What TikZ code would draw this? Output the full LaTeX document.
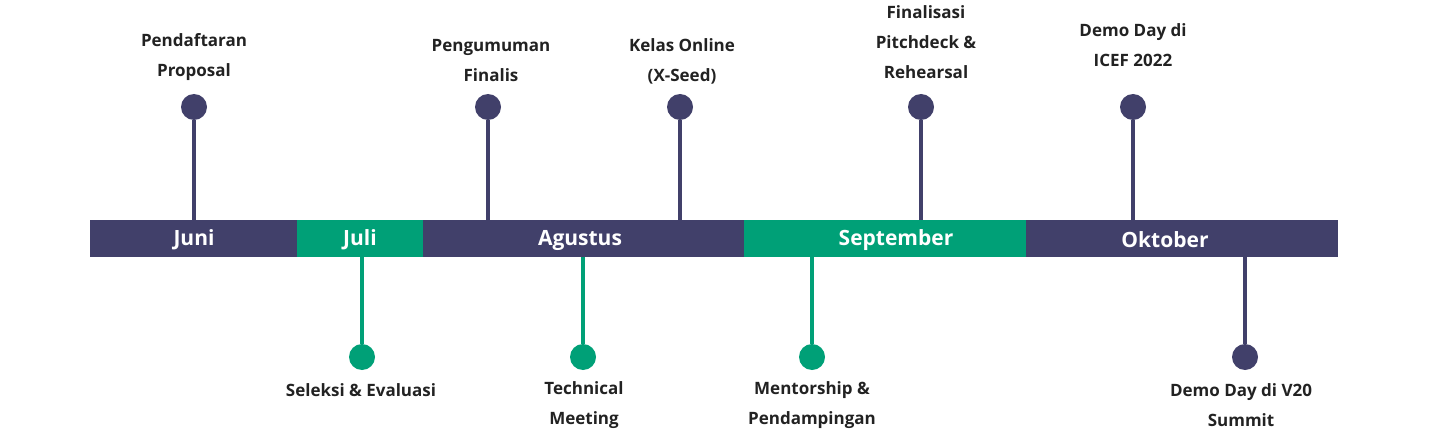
\documentclass[tikz,border=0pt]{standalone}
\usepackage{fontspec}
\setmainfont{Open Sans}
\definecolor{dk}{HTML}{41406A}
\definecolor{gr}{HTML}{00A077}
\definecolor{tx}{HTML}{222222}
\begin{document}
\begin{tikzpicture}[x=1pt,y=-1pt,
  seg/.style={inner sep=0pt,text=white,font=\bfseries\fontsize{21}{26}\selectfont},
  lbl/.style={text=tx,font=\bfseries\fontsize{17}{30}\selectfont,align=center},
  dot/.style={circle,minimum size=26pt,inner sep=0pt}]
\useasboundingbox (0,0) rectangle (1440,433);
\fill[dk] (90,220) rectangle (297,257);
\fill[gr] (297,220) rectangle (423,257);
\fill[dk] (423,220) rectangle (744,257);
\fill[gr] (744,220) rectangle (1026,257);
\fill[dk] (1026,220) rectangle (1338,257);
\node[seg] (juni) at (194,240) {Juni};
\node[seg] (juli) at (360,240) {Juli};
\node[seg] (agu) at (580,240) {Agustus};
\node[seg] (sep) at (896,240) {September};
\node[seg] (okt) at (1165,240) {Oktober};
\foreach \n/\x/\c in {a/194/dk,b/488/dk,c/680/dk,d/921/dk,e/1133/dk}{
  \coordinate (\n t) at (\x,220);
  \node[dot,fill=\c] (\n) at (\x,107) {};
  \draw[\c,line width=4pt] (\n) -- (\n t);
}
\foreach \n/\x/\c in {f/362/gr,g/583/gr,h/812/gr,i/1245/dk}{
  \coordinate (\n t) at (\x,257);
  \node[dot,fill=\c] (\n) at (\x,357) {};
  \draw[\c,line width=4pt] (\n) -- (\n t);
}
\node[lbl] (la) at (194,57) {Pendaftaran\\Proposal};
\node[lbl] (lb) at (491,61) {Pengumuman\\Finalis};
\node[lbl] (lc) at (682,61) {Kelas Online\\(X-Seed)};
\node[lbl] (ld) at (926,42) {Finalisasi\\Pitchdeck \&\\Rehearsal};
\node[lbl] (le) at (1133,45) {Demo Day di\\ICEF 2022};
\node[lbl] (lf) at (361,390) {Seleksi \& Evaluasi};
\node[lbl] (lg) at (584,405) {Technical\\Meeting};
\node[lbl] (lh) at (812,405) {Mentorship \&\\Pendampingan};
\node[lbl] (li) at (1241,405) {Demo Day di V20\\Summit};
\end{tikzpicture}
\end{document}
